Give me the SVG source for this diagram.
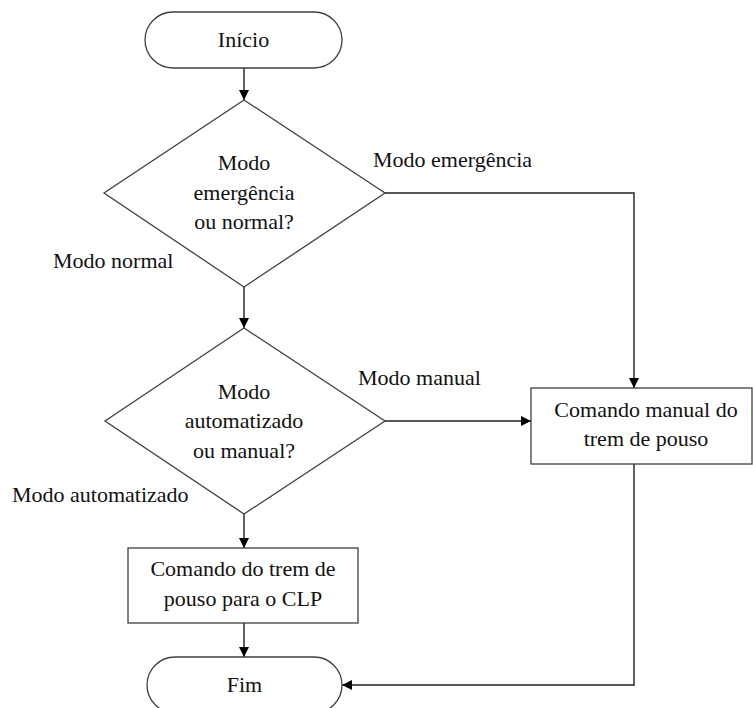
<svg xmlns="http://www.w3.org/2000/svg" width="753" height="708" viewBox="0 0 753 708">
  <style>
    .shape { fill: #ffffff; stroke: #404040; stroke-width: 1.3; }
    .edge { fill: none; stroke: #202020; stroke-width: 1.4; }
    text { font-family: 'Liberation Serif', 'DejaVu Serif', 'Times New Roman', serif; font-size: 22px; fill: #111111; }
    .c { text-anchor: middle; }
  </style>
  <defs>
    <marker id="arrow" viewBox="0 0 10 10" refX="10" refY="5" markerWidth="10" markerHeight="10" markerUnits="userSpaceOnUse" orient="auto">
      <path d="M0,0 L10,5 L0,10 Z" fill="#000000"/>
    </marker>
  </defs>

  <!-- connectors -->
  <g id="connectors">
    <line class="edge" x1="244" y1="68" x2="244" y2="100" marker-end="url(#arrow)"/>
    <line class="edge" x1="244" y1="287" x2="244" y2="328" marker-end="url(#arrow)"/>
    <polyline class="edge" points="385,193 634,193 634,388" marker-end="url(#arrow)"/>
    <line class="edge" x1="385" y1="421" x2="531" y2="421" marker-end="url(#arrow)"/>
    <line class="edge" x1="244" y1="514" x2="244" y2="548" marker-end="url(#arrow)"/>
    <line class="edge" x1="244" y1="623" x2="244" y2="657" marker-end="url(#arrow)"/>
    <polyline class="edge" points="634,464 634,685 342,685" marker-end="url(#arrow)"/>
    <text x="373" y="167">Modo emergência</text>
    <text x="53" y="268">Modo normal</text>
    <text x="358" y="385">Modo manual</text>
    <text x="12" y="502">Modo automatizado</text>
  </g>

  <g id="inicio">
    <rect class="shape" x="145" y="12" width="197" height="56" rx="28" ry="28"/>
    <text class="c" x="243.5" y="47">Início</text>
  </g>

  <g id="decisao-emergencia">
    <polygon class="shape" points="244,100 385,193 244,287 104,193"/>
    <text class="c" x="244" y="170">Modo</text>
    <text class="c" x="244" y="200">emergência</text>
    <text class="c" x="244" y="229">ou normal?</text>
  </g>

  <g id="decisao-automatizado">
    <polygon class="shape" points="244,328 385,421 244,514 105,421"/>
    <text class="c" x="244" y="399">Modo</text>
    <text class="c" x="244" y="428">automatizado</text>
    <text class="c" x="244" y="458">ou manual?</text>
  </g>

  <g id="comando-manual">
    <rect class="shape" x="531" y="388" width="221" height="76"/>
    <text class="c" x="646" y="417">Comando manual do</text>
    <text class="c" x="646" y="446">trem de pouso</text>
  </g>

  <g id="comando-clp">
    <rect class="shape" x="128" y="548" width="230" height="75"/>
    <text class="c" x="243" y="576">Comando do trem de</text>
    <text class="c" x="243" y="606">pouso para o CLP</text>
  </g>

  <g id="fim">
    <rect class="shape" x="147" y="657" width="195" height="56" rx="28" ry="28"/>
    <text class="c" x="244.5" y="692">Fim</text>
  </g>
</svg>
